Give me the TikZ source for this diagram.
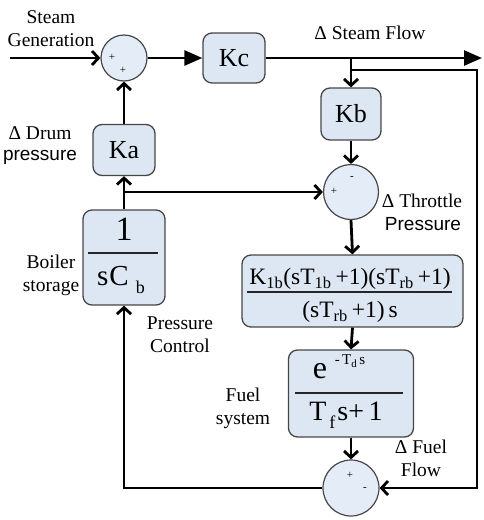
\documentclass[tikz,border=0pt]{standalone}
\usepackage{fontspec}
\setmainfont{Liberation Serif}
\newfontfamily\arialf{Liberation Sans}
\usetikzlibrary{arrows.meta}
\definecolor{boxblue}{RGB}{221,231,243}
\definecolor{circblue}{RGB}{228,237,247}
\definecolor{edgegray}{RGB}{70,70,70}
\begin{document}
\begin{tikzpicture}[x=1pt,y=-1pt,
  blk/.style={draw=edgegray, line width=1.3pt, rounded corners=9pt, fill=boxblue, inner sep=0pt},
  sumc/.style={circle, draw=edgegray, line width=1.2pt, fill=circblue, inner sep=0pt},
  conn/.style={line width=2.8pt, -{Straight Barb[length=6.5pt,width=14pt]}},
  fconn/.style={line width=2.8pt, -{Triangle[length=18pt,width=15pt]}},
  lbl/.style={font=\fontsize{19.5}{23}\selectfont, align=center, inner sep=0pt},
  slbl/.style={font=\arialf\fontsize{19}{23}\selectfont, align=center, inner sep=0pt},
  sgn/.style={font=\fontsize{11}{11}\selectfont, inner sep=0pt},
  kfont/.style={font=\fontsize{26}{28}\selectfont},
  frac/.style={line width=1.4pt, draw=black!85},
]
\useasboundingbox (0,0) rectangle (484,520);

% blocks
\node[sumc, minimum size=46pt] (S1) at (124,58) {};
\node[blk, kfont, minimum width=62pt, minimum height=50pt] (Kc) at (234,58) {Kc};
\node[blk, kfont, minimum width=60pt, minimum height=52pt] (Kb) at (351,114) {Kb};
\node[sumc, minimum size=55pt] (S2) at (351,192) {};
\node[blk, kfont, minimum width=62pt, minimum height=51pt] (Ka) at (124,150) {Ka};
\node[blk, minimum width=82pt, minimum height=95pt] (Bs) at (124,257.5) {};
\node[blk, minimum width=221pt, minimum height=72pt] (Bg) at (352.5,291) {};
\node[blk, minimum width=125pt, minimum height=87pt] (Fu) at (351,393.5) {};
\node[sumc, minimum size=56pt] (S3) at (351,488) {};

% fractions
\node[font=\fontsize{34}{34}\selectfont, inner sep=0pt] (b1) at (124,229) {1};
\draw[frac] (88,253) -- (158,253);
\node[font=\fontsize{29}{29}\selectfont, inner sep=0pt] (b2) at (121,280) {s\kern1pt C\kern7pt\raisebox{-8pt}{\fontsize{18}{18}\selectfont b}};

\node[font=\fontsize{23.5}{23.5}\selectfont, inner sep=0pt] (g1) at (350,279) {K\textsubscript{1b}(sT\textsubscript{1b}\,+1)(sT\textsubscript{rb}\,+1)};
\draw[frac] (247,292) -- (452,292);
\node[font=\fontsize{23.5}{23.5}\selectfont, inner sep=0pt] (g2) at (350,312) {(sT\textsubscript{rb}\,+1)\,s};

\node[font=\fontsize{32}{32}\selectfont, inner sep=0pt] (f1) at (320,371) {e};
\node[font=\fontsize{15}{15}\selectfont, inner sep=0pt] (f1s) at (350,361) {-\,T\raisebox{-3pt}{\fontsize{11}{11}\selectfont d}\,s};
\draw[frac] (295,393) -- (403,393);
\node[font=\fontsize{28}{28}\selectfont, inner sep=0pt] (f2) at (346,415) {T\kern3pt\raisebox{-8pt}{\fontsize{18}{18}\selectfont f}\kern2pt s+\,1};

% signs
\node[sgn] at (112,57) {+};
\node[sgn] at (123,70) {+};
\node[sgn] at (352,178) {-};
\node[sgn] at (334,191) {+};
\node[sgn] at (350,475) {+};
\node[sgn] at (365,489) {-};

% coordinates
\coordinate (in) at (10,58);
\coordinate (out) at (482,58);
\coordinate (br) at (351,58);
\coordinate (br2) at (351,70);
\coordinate (rt) at (477,70);
\coordinate (rb) at (477,488);
\coordinate (lb) at (124,488);
\coordinate (mj) at (124,192);

% connectors
\draw[conn] (in) -- (S1.west);
\draw[fconn] (S1.east) -- (Kc.west);
\draw[fconn] (Kc.east) -- (out);
\draw[conn] (br) -- (Kb.north);
\draw[conn] (br2) -- (rt) -- (rb) -- (S3.east);
\draw[conn] (Kb.south) -- (S2.north);
\draw[conn] (S2.south) -- (Bg.north);
\draw[conn] (Bg.south) -- (Fu.north);
\draw[conn] (Fu.south) -- (S3.north);
\draw[conn] (S3.west) -- (lb) -- (Bs.south);
\draw[conn] (Bs.north) -- (Ka.south);
\draw[conn] (Ka.north) -- (S1.south);
\draw[conn] (mj) -- (S2.west);

% labels
\node[lbl] (tSG) at (51,28.5) {Steam\\Generation};
\node[lbl] (tSF) at (370,33) {Δ Steam Flow};
\node[lbl] (tDD) at (40,133) {Δ Drum};
\node[slbl] (tDP) at (40,157) {pressure};
\node[lbl] (tTT) at (422,201) {Δ Throttle};
\node[slbl] (tTP) at (423,224) {Pressure};
\node[lbl] (tBS) at (51,275) {Boiler\\storage};
\node[lbl] (tPC) at (180,335) {Pressure\\Control};
\node[lbl] (tFS) at (243,408.5) {Fuel\\system};
\node[lbl] (tFF) at (421,458.5) {Δ Fuel\\Flow};
\end{tikzpicture}
\end{document}
